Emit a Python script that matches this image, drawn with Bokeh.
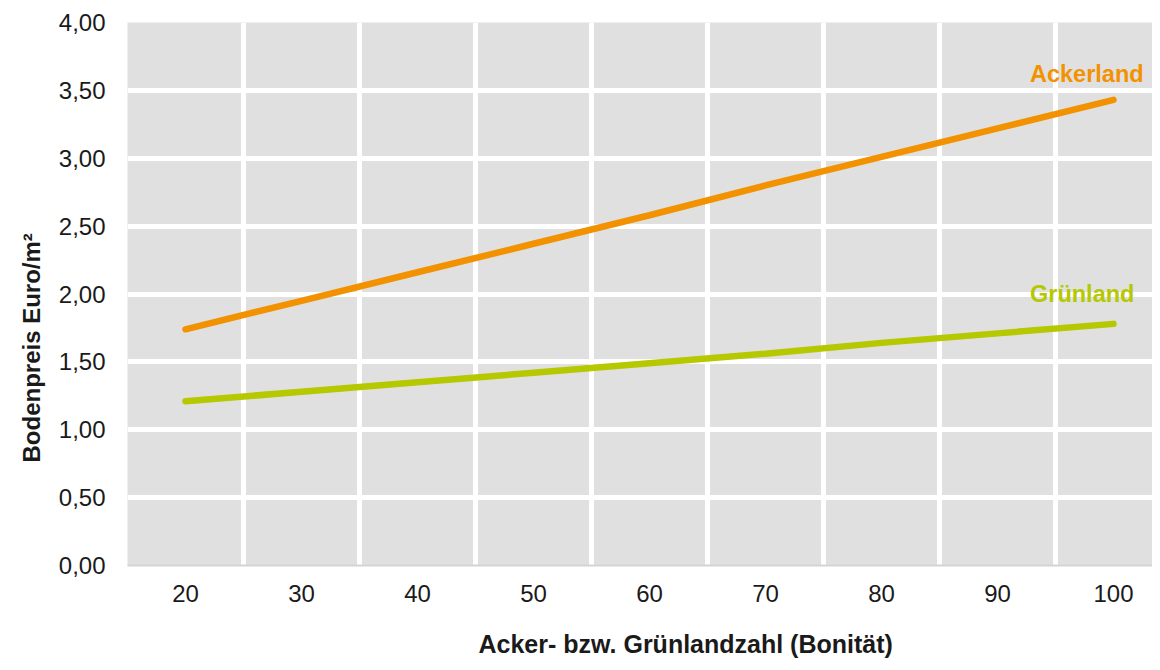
from bokeh.plotting import figure
from bokeh.models import Range1d, FixedTicker, Label, Title, LinearAxis
from bokeh.embed import file_html
from bokeh.resources import INLINE

# ---- data ----
bonitaet = [20, 30, 40, 50, 60, 70, 80, 90, 100]
ackerland = [1.74, 1.95, 2.16, 2.37, 2.58, 2.80, 3.01, 3.22, 3.43]
gruenland = [1.21, 1.28, 1.35, 1.42, 1.49, 1.56, 1.64, 1.71, 1.78]
series_names = ["Ackerland", "Grünland"]
x_tick_labels = ["20", "30", "40", "50", "60", "70", "80", "90", "100"]
y_ticks = [0.0, 0.5, 1.0, 1.5, 2.0, 2.5, 3.0, 3.5, 4.0]
y_tick_labels = ["0,00", "0,50", "1,00", "1,50", "2,00", "2,50", "3,00", "3,50", "4,00"]
x_title = "Acker- bzw. Grünlandzahl (Bonität)"
y_title = "Bodenpreis Euro/m²"

# ---- styling ----
ORANGE = "#f39200"
GREEN = "#b5c800"
TEXT = "#1a1a1a"
FONT = "Liberation Sans"

W, H = 1152, 662
LEFT, TOP, BOTTOM = 127, 22, 97
PX_PER_UNIT = 11.6
x_start = 15
x_end = x_start + (W - LEFT) / PX_PER_UNIT

p = figure(width=W, height=H, output_backend="svg", toolbar_location=None,
           x_range=Range1d(x_start, x_end), y_range=Range1d(0, 4),
           min_border_left=LEFT, min_border_right=0,
           min_border_top=TOP, min_border_bottom=BOTTOM)

p.background_fill_color = "#e0e0e0"
p.border_fill_color = "white"
p.outline_line_color = None

# grid
p.ygrid.ticker = FixedTicker(ticks=y_ticks)
p.ygrid.grid_line_color = "white"
p.ygrid.grid_line_width = 5
p.xgrid.ticker = FixedTicker(ticks=[b - 5 for b in bonitaet] + [bonitaet[-1] + 5])
p.xgrid.grid_line_color = "white"
p.xgrid.grid_line_width = 5

# x axis
p.xaxis.ticker = FixedTicker(ticks=bonitaet)
p.xaxis.major_label_overrides = {b: s for b, s in zip(bonitaet, x_tick_labels)}
p.xaxis.axis_line_color = "#d4d4d4"
p.xaxis.axis_line_width = 2
p.xaxis.major_tick_line_color = None
p.xaxis.minor_tick_line_color = None
p.xaxis.major_label_standoff = 13
p.xaxis.major_label_text_font = FONT
p.xaxis.major_label_text_font_size = "24px"
p.xaxis.major_label_text_color = TEXT

# y axis
p.yaxis.ticker = FixedTicker(ticks=y_ticks)
p.yaxis.major_label_overrides = {t: s for t, s in zip(y_ticks, y_tick_labels)}
p.yaxis.axis_line_color = None
p.yaxis.major_tick_line_color = None
p.yaxis.minor_tick_line_color = None
p.yaxis.major_label_standoff = 16
p.yaxis.major_label_text_font = FONT
p.yaxis.major_label_text_font_size = "24px"
p.yaxis.major_label_text_color = TEXT

# lines
p.line(bonitaet, ackerland, line_color=ORANGE, line_width=6.5, line_cap="round")
p.line(bonitaet, gruenland, line_color=GREEN, line_width=6.5, line_cap="round")

# series labels
p.add_layout(Label(x=bonitaet[-1] - 7.2, y=ackerland[-1] + 0.19, text=series_names[0],
                   text_align="left", text_baseline="middle", text_font=FONT,
                   text_font_style="bold", text_font_size="23.5px", text_color=ORANGE))
p.add_layout(Label(x=bonitaet[-1] - 7.2, y=gruenland[-1] + 0.22, text=series_names[1],
                   text_align="left", text_baseline="middle", text_font=FONT,
                   text_font_style="bold", text_font_size="23.5px", text_color=GREEN))

# invisible spacer axis below the x axis to push the x title down
spacer = LinearAxis(ticker=FixedTicker(ticks=[bonitaet[0]]),
                    major_label_overrides={bonitaet[0]: ""},
                    axis_line_color=None, minor_tick_line_color=None,
                    major_tick_line_color="white", major_tick_line_alpha=0.01,
                    major_tick_out=22, major_tick_in=0,
                    major_label_standoff=0, major_label_text_font_size="1px",
                    major_label_text_color="white")
p.add_layout(spacer, "below")

# axis titles
p.add_layout(Title(text=y_title, align="left", offset=103, standoff=22,
                   text_font=FONT, text_font_style="bold", text_font_size="24px",
                   text_color=TEXT), "left")
p.add_layout(Title(text=x_title, align="left", offset=351, standoff=2,
                   text_font=FONT, text_font_style="bold", text_font_size="25px",
                   text_color=TEXT), "below")

open("out.html", "w").write(file_html(p, INLINE))
